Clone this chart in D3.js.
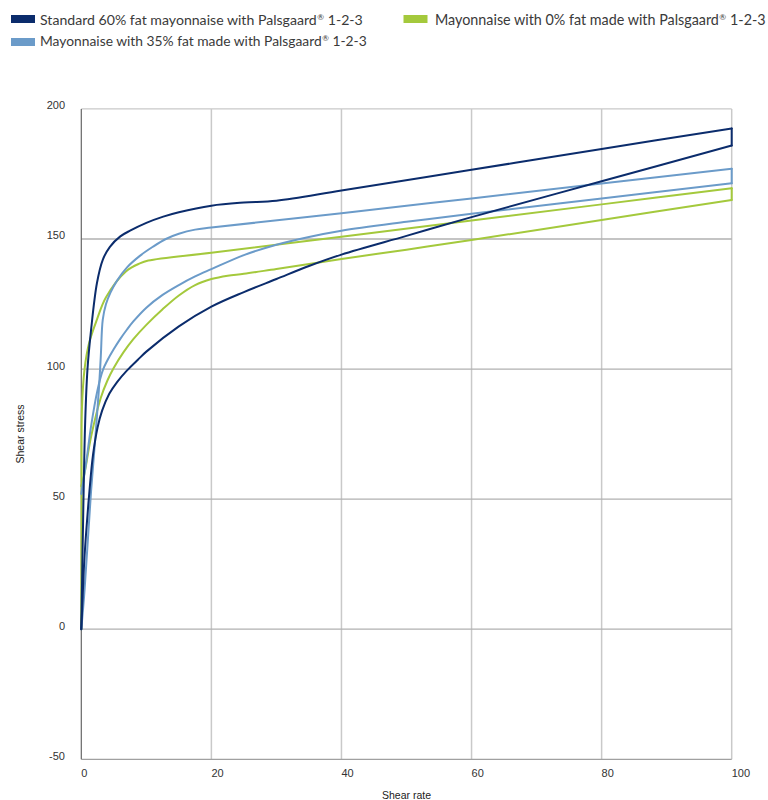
<!DOCTYPE html>
<html><head><meta charset="utf-8">
<script src="https://cdn.jsdelivr.net/npm/d3@7"></script>
<style>body{margin:0;background:#fff}svg{display:block}</style>
</head><body><svg id="c" width="768" height="800"></svg>
<script>
// ---- data ----
const seriesNames = [
  "Standard 60% fat mayonnaise with Palsgaard® 1-2-3",
  "Mayonnaise with 35% fat made with Palsgaard® 1-2-3",
  "Mayonnaise with 0% fat made with Palsgaard® 1-2-3"
];
const seriesColors = ["#0b2c6c", "#6b9bc9", "#a4c93c"];
const xTicks = [0, 20, 40, 60, 80, 100];
const yTicks = [-50, 0, 50, 100, 150, 200];

// up-curves (increasing shear rate) [shear rate, shear stress]
const fat60Up = [[0,0],[0.3,45],[0.6,80],[0.95,100],[1.5,115],[2.4,133],[3.3,142],[4.4,147],[6,151],[7.5,153.2],[10,156.2],[12.6,158.6],[15,160.3],[20,162.8],[25,164],[30,164.7],[40,168.6],[60,176.6],[80,184.6],[100,192.5]];
const fat35Up = [[0,0],[0.5,15],[1.5,53],[2.2,75],[2.7,92],[3.0,105],[3.3,119],[3.8,125],[4.5,129.5],[5.5,134],[7,139],[9,143.5],[11,147],[13,150],[15,152],[17.5,153.6],[20,154.4],[40,159.9],[60,165.6],[80,171.3],[100,177]];
const fat0Up = [[0,0],[0.05,50],[0.1,85],[0.5,100],[1.2,110],[2.4,119],[3.8,127.6],[6.9,137.6],[9,140.6],[10.3,141.7],[20,144.7],[40,150.9],[60,157.1],[80,163.3],[100,169.5]];

// down-curves (decreasing shear rate)
const fat60Down = [[100,185.9],[80,172.2],[60,158.4],[50,151.2],[40,144],[35,139.6],[30,134.6],[25,129.6],[20,124],[15,116.4],[10,106.7],[8.7,103.6],[7,99.4],[5.5,95],[4.3,90.5],[3.2,84],[2.5,77.5],[1.8,67],[1.25,53],[0.8,39],[0.45,26],[0.2,12],[0,0]];
const fat35Down = [[100,171.4],[80,165.6],[60,159.7],[50,156.6],[40,153.2],[35,150.8],[30,147.8],[25,143.8],[20,138.4],[17.5,135.6],[15,132.3],[12.5,128.5],[10,123.6],[8,118.3],[7,115.1],[6,111.6],[5,107.7],[4,103.3],[3.3,99.5],[2.5,92],[1.5,78],[0.8,65],[0,52]];
const fat0Down = [[100,165],[80,157.3],[60,149.6],[50,145.9],[40,142.3],[30,138.5],[25,136.6],[22.5,135.9],[20,134.6],[17.5,132.3],[15,128.3],[12.5,123],[10,117],[8,111.5],[6.5,106.5],[5,100.5],[4,95.5],[3,89],[1.5,74],[0.5,60],[0,55]];

const upCurves = [fat60Up, fat35Up, fat0Up];
const downCurves = [fat60Down, fat35Down, fat0Down];

// ---- drawing ----
const svg = d3.select("#c");
const x = d3.scaleLinear().domain([0, 100]).range([81.3, 731.7]);
const y = d3.scaleLinear().domain([-50, 200]).range([759.3, 108.9]);

const g = svg.append("g");
// vertical grid
g.selectAll(".vg").data(xTicks.filter(v => v > 0)).join("line")
  .attr("x1", d => x(d)).attr("x2", d => x(d))
  .attr("y1", y(200)).attr("y2", y(-50))
  .attr("stroke", "#c9c9c9").attr("stroke-width", 1.5);
// horizontal grid
g.selectAll(".hg").data(yTicks.filter(v => v > -50)).join("line")
  .attr("x1", x(0)).attr("x2", x(100))
  .attr("y1", d => y(d)).attr("y2", d => y(d))
  .attr("stroke", d => d === 200 ? "#c9c9c9" : "#b0b0b0").attr("stroke-width", 1.3);
// bottom axis line
g.append("line").attr("x1", x(0)).attr("x2", x(100)).attr("y1", y(-50)).attr("y2", y(-50))
  .attr("stroke", "#a0a0a0").attr("stroke-width", 1.3);
// left axis line
g.append("line").attr("x1", x(0)).attr("x2", x(0)).attr("y1", y(200)).attr("y2", y(-50))
  .attr("stroke", "#666").attr("stroke-width", 1.2);

// tick labels
g.selectAll(".xl").data(xTicks).join("text")
  .attr("x", d => x(d)).attr("y", 776.5)
  .attr("font-family", "Liberation Sans, Arial, sans-serif").attr("font-size", 11)
  .attr("fill", "#333").text(d => d);
g.selectAll(".yl").data(yTicks).join("text")
  .attr("x", 65).attr("y", d => y(d) + 0.5).attr("text-anchor", "end")
  .attr("font-family", "Liberation Sans, Arial, sans-serif").attr("font-size", 11)
  .attr("fill", "#333").text(d => d);

// axis titles
svg.append("text").attr("x", 406.5).attr("y", 799)
  .attr("text-anchor", "middle").attr("font-family", "Liberation Sans, Arial, sans-serif")
  .attr("font-size", 10.5).attr("fill", "#222").text("Shear rate");
svg.append("text").attr("transform", "translate(24,434) rotate(-90)")
  .attr("text-anchor", "middle").attr("font-family", "Liberation Sans, Arial, sans-serif")
  .attr("font-size", 10.5).attr("fill", "#222").text("Shear stress");

// curves
const line = d3.line().x(d => x(d[0])).y(d => y(d[1])).curve(d3.curveCatmullRom.alpha(0.5));
const lineStraight = d3.line().x(d => x(d[0])).y(d => y(d[1]));
const order = [2, 1, 0];
order.forEach(i => {
  const col = seriesColors[i];
  const up = upCurves[i];
  const down = downCurves[i].slice().sort((a, b) => a[0] - b[0]);
  const sg = svg.append("g").attr("fill", "none").attr("stroke", col)
    .attr("stroke-width", 2).attr("stroke-linecap", "round").attr("stroke-linejoin", "round");
  sg.append("path").attr("d", line(up));
  sg.append("path").attr("d", line(down));
  sg.append("path").attr("d", lineStraight([up[up.length - 1], downCurves[i][0]]));
});

// legend
const legendPos = [[11, 15, 40, 25, 323], [11, 38, 40, 46, 327], [403.5, 15, 435, 25, 331]];
const legendFont = "Lato, 'Open Sans', sans-serif";
seriesNames.forEach((name, i) => {
  const [sx, sy, tx, ty, tw] = legendPos[i];
  svg.append("rect").attr("x", sx).attr("y", sy).attr("width", 24).attr("height", 8)
    .attr("fill", seriesColors[i]);
  const parts = name.split("®");
  const lg = svg.append("g");
  const mk = (s, fs) => lg.append("text").attr("font-family", legendFont)
    .attr("font-size", fs).attr("fill", "#3a3a3a").text(s);
  let fs = 15.5;
  const a = mk(parts[0], fs), r = mk("®", fs * 0.58), b = mk(parts[1].trim(), fs);
  const gapK = 0.3;
  const total = a.node().getComputedTextLength() + r.node().getComputedTextLength() + b.node().getComputedTextLength() + fs * gapK;
  const k = tw / total;
  fs = fs * k;
  a.attr("font-size", fs); r.attr("font-size", fs * 0.58); b.attr("font-size", fs);
  const wa = a.node().getComputedTextLength(), wr = r.node().getComputedTextLength();
  a.attr("x", tx).attr("y", ty);
  r.attr("x", tx + wa + 0.5).attr("y", ty - fs * 0.33);
  b.attr("x", tx + wa + wr + fs * gapK).attr("y", ty);
});
</script></body></html>
